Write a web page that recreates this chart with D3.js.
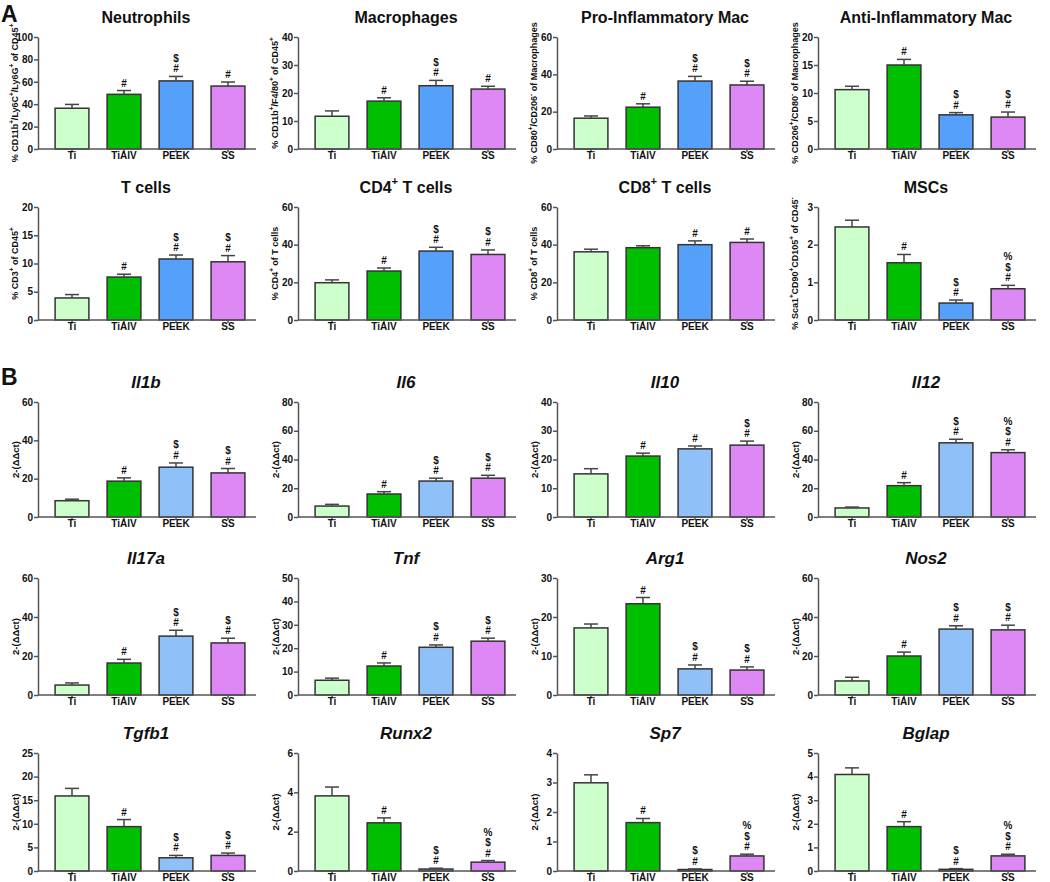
<!DOCTYPE html>
<html>
<head>
<meta charset="utf-8">
<script src="https://cdn.jsdelivr.net/npm/d3@7"></script>
<style>
  body { margin: 0; background: #fff; }
  text { font-family: "Liberation Sans", Arial, sans-serif; font-weight: bold; fill: #111; }
</style>
</head>
<body>
<div id="fig"></div>
<script>
// groups on every x axis
const groups = ["Ti", "TiAlV", "PEEK", "SS"];

// ---- panel A : flow cytometry ----
const flowTitles = ["Neutrophils", "Macrophages", "Pro-Inflammatory Mac", "Anti-Inflammatory Mac",
                    "T cells", "CD4{+} T cells", "CD8{+} T cells", "MSCs"];
const flowYLabels = ["% CD11b{+}/Ly6C{+}/Ly6G{+} of CD45{+}", "% CD11b{+}/F4/80{+} of CD45{+}",
                     "% CD80{+}/CD206{-} of Macrophages", "% CD206{+}/CD80{-} of Macrophages",
                     "% CD3{+} of CD45{+}", "% CD4{+} of T cells", "% CD8{+} of T cells",
                     "% Sca1{+}CD90{+}CD105{+} of CD45{-}"];
const flowYMax  = [100, 40, 60, 20, 20, 60, 60, 3];
const flowYStep = [20, 10, 20, 5, 5, 20, 20, 1];
const flowMeans = [
  [36.4, 48.8, 60.8, 56.2],
  [11.7, 17.1, 22.6, 21.4],
  [16.5, 22.4, 36.4, 34.3],
  [10.6, 15.0, 6.1, 5.7],
  [3.9, 7.6, 10.8, 10.3],
  [19.8, 26.0, 36.6, 34.8],
  [36.2, 38.4, 40.0, 41.2],
  [2.47, 1.52, 0.45, 0.83]
];
const flowErrs = [
  [3.4, 3.4, 4.0, 3.6],
  [1.9, 1.2, 1.9, 1.0],
  [1.2, 1.8, 2.5, 2.0],
  [0.6, 1.0, 0.4, 0.9],
  [0.6, 0.5, 0.7, 1.1],
  [1.5, 1.6, 2.0, 2.4],
  [1.4, 1.0, 2.0, 1.8],
  [0.18, 0.22, 0.08, 0.09]
];
const flowMarks = [
  ["", "#", "#$", "#"],
  ["", "#", "#$", "#"],
  ["", "#", "#$", "#$"],
  ["", "#", "#$", "#$"],
  ["", "#", "#$", "#$"],
  ["", "#", "#$", "#$"],
  ["", "", "#", "#"],
  ["", "#", "#$", "#$%"]
];

// ---- panel B : gene expression ----
const geneTitles = ["Il1b", "Il6", "Il10", "Il12", "Il17a", "Tnf", "Arg1", "Nos2",
                    "Tgfb1", "Runx2", "Sp7", "Bglap"];
const geneYLabel = "2-(\u0394\u0394ct)";
const geneYMax  = [60, 80, 40, 80, 60, 50, 30, 60, 25, 6, 4, 5];
const geneYStep = [20, 20, 10, 20, 20, 10, 10, 20, 5, 2, 1, 1];
const geneMeans = [
  [8.5, 18.7, 26.0, 23.0],
  [7.6, 16.0, 25.0, 27.0],
  [15.0, 21.2, 23.7, 25.0],
  [6.3, 21.8, 51.6, 44.8],
  [5.1, 16.4, 30.2, 26.7],
  [6.3, 12.4, 20.4, 23.0],
  [17.2, 23.4, 6.7, 6.4],
  [7.2, 20.0, 33.8, 33.4],
  [15.9, 9.4, 2.8, 3.3],
  [3.82, 2.45, 0.1, 0.45],
  [2.99, 1.64, 0.05, 0.51],
  [4.09, 1.88, 0.07, 0.64]
];
const geneErrs = [
  [0.8, 1.7, 2.2, 2.3],
  [1.2, 1.6, 2.0, 2.0],
  [1.8, 1.0, 1.0, 1.4],
  [0.6, 2.1, 2.5, 2.0],
  [1.1, 1.9, 3.0, 2.4],
  [0.9, 1.3, 1.0, 1.3],
  [1.0, 1.6, 1.0, 0.8],
  [1.9, 2.0, 1.7, 2.4],
  [1.6, 1.5, 0.5, 0.5],
  [0.45, 0.25, 0.04, 0.08],
  [0.27, 0.14, 0.02, 0.06],
  [0.28, 0.21, 0.03, 0.07]
];
const geneMarks = [
  ["", "#", "#$", "#$"],
  ["", "#", "#$", "#$"],
  ["", "#", "#", "#$"],
  ["", "#", "#$", "#$%"],
  ["", "#", "#$", "#$"],
  ["", "#", "#$", "#$"],
  ["", "#", "#$", "#$"],
  ["", "#", "#$", "#$"],
  ["", "#", "#$", "#$"],
  ["", "#", "#$", "#$%"],
  ["", "#", "#$", "#$%"],
  ["", "#", "#$", "#$%"]
];

const colorsA = ["#ccffcc", "#00bf00", "#55a0fb", "#dd88f4"];
const colorsB = ["#ccffcc", "#00bf00", "#90c0f8", "#dd88f4"];

//////////////////////////////////////////////////////////////////////
const W = 1050, H = 882;
const colX = [38, 298, 557, 818];
const rowsA = [[37, 149], [207, 320]];
const rowsB = [[402, 517], [578, 695], [753, 871]];
const axisColor = "#555";

const svg = d3.select("#fig").append("svg")
  .attr("width", W).attr("height", H)
  .style("background", "#fff");

// write "{+}" parts as superscripts
function richText(sel, str) {
  str.split(/(\{[^}]*\})/).filter(s => s.length).forEach(part => {
    if (part[0] === "{") {
      sel.append("tspan").text(part.slice(1, -1))
        .attr("baseline-shift", "super").attr("font-size", "0.7em");
    } else {
      sel.append("tspan").text(part);
    }
  });
}

function drawChart(cx, top, zero, o) {
  const h = zero - top;
  const g = svg.append("g").attr("transform", `translate(${cx},${top})`);

  const y = d3.scaleLinear().domain([0, o.yMax]).range([h, 0]);
  const x = d3.scaleBand().domain(groups).range([8, 216])
    .paddingInner(0.35).paddingOuter(0.175);

  // bars
  g.selectAll(".bar").data(o.means).join("rect")
    .attr("x", (d, i) => x(groups[i]))
    .attr("y", d => y(d))
    .attr("width", x.bandwidth())
    .attr("height", d => h - y(d))
    .attr("fill", (d, i) => o.colors[i])
    .attr("stroke", "#333").attr("stroke-width", 1.5);

  // upper error bars
  const eb = g.selectAll(".err").data(o.means).join("g")
    .attr("transform", (d, i) => `translate(${x(groups[i]) + x.bandwidth() / 2},0)`);
  eb.append("line")
    .attr("y1", d => y(d)).attr("y2", (d, i) => y(d + o.errs[i]))
    .attr("stroke", "#444").attr("stroke-width", 1.5);
  eb.append("line")
    .attr("x1", -7).attr("x2", 7)
    .attr("y1", (d, i) => y(d + o.errs[i])).attr("y2", (d, i) => y(d + o.errs[i]))
    .attr("stroke", "#444").attr("stroke-width", 1.5);

  // significance marks stacked upward
  eb.each(function (d, i) {
    const top = y(d + o.errs[i]);
    o.marks[i].split("").forEach((m, k) => {
      d3.select(this).append("text")
        .attr("y", top - 4 - k * 10.5)
        .attr("text-anchor", "middle")
        .attr("font-size", 10)
        .text(m);
    });
  });

  // y axis
  const ya = g.append("g").call(d3.axisLeft(y)
    .tickValues(d3.range(0, o.yMax + o.yStep / 2, o.yStep))
    .tickFormat(d3.format("d"))
    .tickSize(4).tickPadding(1).tickSizeOuter(0));
  ya.select(".domain").attr("stroke", axisColor).attr("stroke-width", 1.5);
  ya.selectAll(".tick line").attr("stroke", axisColor).attr("stroke-width", 1.5);
  ya.selectAll(".tick text").attr("font-size", 10).attr("fill", "#111");

  // x axis
  const xa = g.append("g").attr("transform", `translate(0,${h})`)
    .call(d3.axisBottom(x).tickSize(3).tickPadding(0).tickSizeOuter(0));
  xa.select(".domain").remove();
  xa.append("line").attr("x1", 0).attr("x2", 218)
    .attr("stroke", axisColor).attr("stroke-width", 1.5);
  xa.selectAll(".tick line").attr("stroke", axisColor).attr("stroke-width", 1.5);
  xa.selectAll(".tick text").attr("font-size", 10).attr("fill", "#111");

  // title
  const t = g.append("text")
    .attr("x", 108).attr("y", -20)
    .attr("text-anchor", "middle")
    .attr("dominant-baseline", "central")
    .attr("font-size", o.italic ? 17 : 16)
    .attr("font-style", o.italic ? "italic" : "normal");
  richText(t, o.title);

  // y label
  const yl = g.append("text")
    .attr("transform", `translate(-23,${h / 2}) rotate(-90)`)
    .attr("text-anchor", "middle")
    .attr("dominant-baseline", "central")
    .attr("font-size", o.italic ? 9.5 : 9);
  richText(yl, o.yLabel);
}

flowTitles.forEach((title, i) => {
  const r = rowsA[Math.floor(i / 4)];
  drawChart(colX[i % 4], r[0], r[1], {
    title, yLabel: flowYLabels[i], yMax: flowYMax[i], yStep: flowYStep[i],
    means: flowMeans[i], errs: flowErrs[i], marks: flowMarks[i], colors: colorsA, italic: false
  });
});

geneTitles.forEach((title, i) => {
  const r = rowsB[Math.floor(i / 4)];
  drawChart(colX[i % 4], r[0], r[1], {
    title, yLabel: geneYLabel, yMax: geneYMax[i], yStep: geneYStep[i],
    means: geneMeans[i], errs: geneErrs[i], marks: geneMarks[i], colors: colorsB, italic: true
  });
});

// panel letters
svg.append("text").attr("x", 1).attr("y", 22).attr("font-size", 23).text("A");
svg.append("text").attr("x", 1).attr("y", 385).attr("font-size", 23).text("B");
</script>
</body>
</html>
